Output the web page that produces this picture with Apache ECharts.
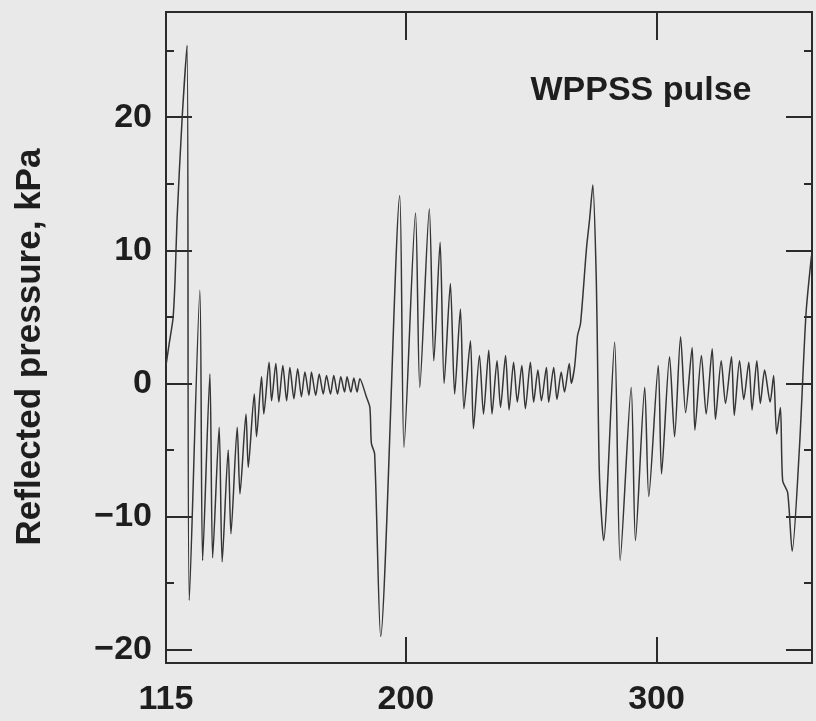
<!DOCTYPE html>
<html>
<head>
<meta charset="utf-8">
<script src="https://cdn.jsdelivr.net/npm/echarts@6/dist/echarts.min.js"></script>
<style>
  html, body { margin: 0; padding: 0; background: #e9e9e9; }
  #chart { width: 816px; height: 721px; }
</style>
</head>
<body>
<div id="chart"></div>
<script>
// Time axis values and reflected pressure, kPa
const time = [104.4,105.6,107.2,108.0,108.8,110.8,112.8,
  113.7,117.9,119.0,121.9,123.0,125.6,126.8,129.2,130.3,132.8,133.9,136.3,137.2,139.6,140.5,142.5,143.4,145.5,146.5,
  148.2,149.4,151.0,152.5,153.8,155.4,156.9,158.4,159.8,161.4,162.4,164.1,165.5,167.1,168.4,170.0,171.3,172.8,174.1,175.6,176.6,178.1,179.3,180.6,181.7,
  184.3,185.7,186.3,187.6,190.0,
  197.6,199.3,203.9,205.6,209.4,211.2,213.7,215.3,217.8,219.5,221.8,223.2,225.8,227.0,229.4,231.0,233.1,234.4,236.4,237.8,239.8,241.2,243.0,244.5,246.3,247.7,249.7,251.0,252.7,254.1,256.1,257.0,259.0,260.3,262.0,263.3,265.2,266.0,
  267.3,268.5,269.7,272.1,273.3,274.6,
  276.0,276.6,277.3,278.9,
  283.3,285.5,289.9,291.6,295.3,296.9,300.7,302.0,305.2,307.2,309.6,311.6,314.2,315.3,317.9,319.8,322.2,323.5,325.8,327.5,329.9,331.0,333.1,334.8,336.8,338.1,340.0,341.4,343.1,345.3,346.7,
  347.9,349.4,350.3,352.3,354.1,357.0,359.6,361.8];

const pressure = [1.35,2.9,4.9,7.7,12.3,19.8,25.4,
  -16.3,7.0,-13.3,0.7,-13.1,-3.3,-13.4,-5.0,-11.3,-3.3,-8.3,-2.3,-6.3,-0.8,-4.0,0.5,-2.3,1.6,-1.3,
  1.5,-1.4,1.35,-1.3,1.2,-1.15,1.1,-1.0,0.85,-0.9,0.85,-0.9,0.7,-0.8,0.6,-0.8,0.6,-0.8,0.5,-0.65,0.5,-0.65,0.4,-0.65,0.35,
  -1.0,-1.8,-4.5,-5.3,-19.0,
  14.1,-4.8,12.8,-0.3,13.1,1.7,10.6,0.0,7.5,-0.8,5.6,-1.9,3.2,-3.4,2.1,-2.3,2.5,-2.3,1.7,-1.8,2.1,-2.0,1.6,-1.4,1.35,-1.9,1.6,-1.4,1.0,-1.3,1.2,-1.4,1.2,-1.2,0.85,-0.65,1.5,0.0,
  1.2,3.6,4.5,10.2,12.3,14.9,
  7.7,0.2,-7.3,-11.8,
  3.1,-13.3,-0.3,-11.8,-0.3,-8.5,1.35,-6.8,2.0,-4.0,3.5,-2.2,2.7,-3.5,2.1,-2.3,2.6,-2.7,1.7,-1.5,2.0,-2.4,1.7,-1.2,1.6,-2.0,1.7,-1.5,1.0,-1.4,0.6,
  -3.8,-1.8,-7.3,-8.2,-12.6,-4.8,5.2,9.6];

// Axis ticks and labels
const xMin = 104.4, xMax = 362;
const xLabelValues = [104.4, 200, 300];
const xTickLabels = ['115', '200', '300'];
const xTickValues = [200, 300];
const yMin = -21, yMax = 27.9;
const yMajorValues = [-20, -10, 0, 10, 20];
const yTickLabels = ['\u221220', '\u221210', '0', '10', '20'];
const yMinorValues = [-15, -5, 5, 15, 25];
const yAxisName = 'Reflected pressure, kPa';
const annotation = 'WPPSS pulse';

const ink = '#2b2b2b';
const font = 'Liberation Sans, Arial, sans-serif';

const chart = echarts.init(document.getElementById('chart'), null, { renderer: 'canvas' });

function frameLine() { return { show: true, onZero: false, lineStyle: { color: ink, width: 2 } }; }

const xAxes = [
  {
    type: 'value', position: 'bottom', min: xMin, max: xMax,
    axisLine: frameLine(),
    axisTick: { show: true, inside: true, length: 26, customValues: xTickValues, lineStyle: { color: ink, width: 2 } },
    axisLabel: {
      show: true, customValues: xLabelValues, margin: 20,
      fontSize: 34, fontWeight: 'bold', color: '#1e1e1e', fontFamily: font,
      formatter: function (v) {
        let best = 0;
        for (let i = 1; i < xLabelValues.length; i++) {
          if (Math.abs(xLabelValues[i] - v) < Math.abs(xLabelValues[best] - v)) best = i;
        }
        return xTickLabels[best];
      }
    },
    splitLine: { show: false }, minorTick: { show: false }
  },
  {
    type: 'value', position: 'top', min: xMin, max: xMax,
    axisLine: frameLine(),
    axisTick: { show: true, inside: true, length: 28, customValues: xTickValues, lineStyle: { color: ink, width: 2 } },
    axisLabel: { show: false }, splitLine: { show: false }
  }
];

function yAx(position, values, len, labels) {
  return {
    type: 'value', position: position, min: yMin, max: yMax,
    axisLine: frameLine(),
    axisTick: { show: true, inside: true, length: len, customValues: values, lineStyle: { color: ink, width: 2 } },
    axisLabel: labels ? {
      show: true, customValues: yMajorValues, margin: 14,
      fontSize: 34, fontWeight: 'bold', color: '#1e1e1e', fontFamily: font,
      formatter: function (v) {
        const i = yMajorValues.indexOf(Math.round(v));
        return i >= 0 ? yTickLabels[i] : '';
      }
    } : { show: false },
    splitLine: { show: false }
  };
}

const option = {
  backgroundColor: '#e9e9e9',
  animation: false,
  grid: { left: 166, right: 4, top: 12, bottom: 58, containLabel: false, outerBoundsMode: 'none' },
  xAxis: xAxes,
  yAxis: [
    yAx('left', yMajorValues, 26, true),
    yAx('left', yMinorValues, 8, false),
    yAx('right', yMajorValues, 26, false),
    yAx('right', yMinorValues, 8, false)
  ],
  graphic: [
    {
      type: 'text', x: 30, y: 347, rotation: Math.PI / 2,
      style: { text: yAxisName, fontSize: 35, fontWeight: 'bold', fontFamily: font, fill: '#1e1e1e', align: 'center', verticalAlign: 'middle' }
    },
    {
      type: 'text', x: 641, y: 91,
      style: { text: annotation, fontSize: 34, fontWeight: 'bold', fontFamily: font, fill: '#1e1e1e', align: 'center', verticalAlign: 'middle' }
    }
  ],
  series: [{
    type: 'line',
    xAxisIndex: 0, yAxisIndex: 0,
    data: time.map((t, i) => [t, pressure[i]]),
    showSymbol: false,
    smooth: 0.25,
    lineStyle: { color: '#353535', width: 1.5 },
    clip: true
  }]
};

chart.setOption(option);
</script>
</body>
</html>
